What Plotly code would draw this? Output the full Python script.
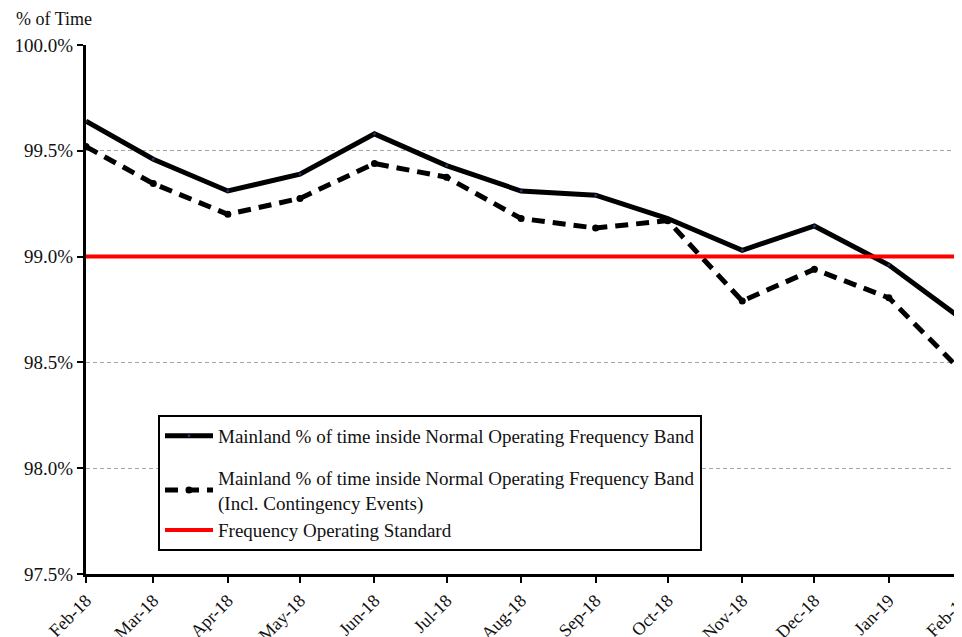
import plotly.graph_objects as go

months = ["2018-02-01", "2018-03-01", "2018-04-01", "2018-05-01", "2018-06-01",
          "2018-07-01", "2018-08-01", "2018-09-01", "2018-10-01", "2018-11-01",
          "2018-12-01", "2019-01-01", "2019-02-01"]
mainland_band = [99.64, 99.46, 99.31, 99.39, 99.58, 99.43, 99.31, 99.29, 99.18,
                 99.03, 99.145, 98.96, 98.70]
mainland_incl_contingency = [99.52, 99.345, 99.20, 99.275, 99.44, 99.375, 99.18,
                             99.135, 99.17, 98.79, 98.94, 98.805, 98.45]
operating_standard = [99.0] * len(months)

name1 = "Mainland % of time inside Normal Operating Frequency Band"
name2 = "Mainland % of time inside Normal Operating Frequency Band<br>(Incl. Contingency Events)"
name3 = "Frequency Operating Standard"

FONT = "Liberation Serif"
TXT = "#111111"

fig = go.Figure()
fig.add_trace(go.Scatter(
    x=months, y=mainland_band, name=name1, mode="lines+markers",
    line=dict(color="black", width=5),
    marker=dict(size=3, color="#1f3864"),
    legendgroup="a",
))
fig.add_trace(go.Scatter(
    x=months, y=mainland_incl_contingency, name=name2, mode="lines+markers",
    line=dict(color="black", width=5, dash="13px,8px"),
    marker=dict(size=7, color="black"),
    legendgroup="b",
))
fig.add_trace(go.Scatter(
    x=months, y=operating_standard, name=name3, mode="lines",
    line=dict(color="#ff0000", width=4),
    legendgroup="b",
))

fig.update_layout(
    width=962, height=637,
    margin=dict(l=78, r=6, t=37, b=71, autoexpand=False),
    plot_bgcolor="white", paper_bgcolor="white",
    font=dict(family=FONT, size=18, color=TXT),
    showlegend=True,
    legend=dict(
        x=0.082, y=0.3006, xanchor="left", yanchor="top",
        bgcolor="white", bordercolor="black", borderwidth=2,
        font=dict(family=FONT, size=19, color=TXT),
        traceorder="grouped", tracegroupgap=14,
        itemwidth=48,
        entrywidth=535, entrywidthmode="pixels",
    ),
    annotations=[dict(
        text="% of Time", xref="paper", yref="paper",
        x=-0.082, y=1.049, xanchor="left", yanchor="middle",
        showarrow=False, font=dict(family=FONT, size=18, color=TXT),
    )],
)

fig.update_xaxes(
    type="date", automargin=False,
    range=["2018-02-01", "2019-02-01 06:00"],
    tick0="2018-02-01", dtick="M1", tickformat="%b-%y",
    tickangle=-45, ticklabeloverflow="allow",
    showline=True, linecolor="black", linewidth=3,
    ticks="outside", ticklen=6, tickwidth=2, tickcolor="black",
    showgrid=False, zeroline=False,
    tickfont=dict(family=FONT, size=18, color=TXT),
)
fig.update_yaxes(
    automargin=False,
    range=[97.5, 100.0], dtick=0.5, tick0=97.5,
    tickformat=".1f", ticksuffix="%",
    showline=True, linecolor="black", linewidth=3,
    ticks="outside", ticklen=6, tickwidth=2, tickcolor="black",
    showgrid=True, gridcolor="#a6a6a6", gridwidth=1, griddash="4px,3px",
    zeroline=False,
    tickfont=dict(family=FONT, size=19, color=TXT),
)

fig.write_html("out.html")
